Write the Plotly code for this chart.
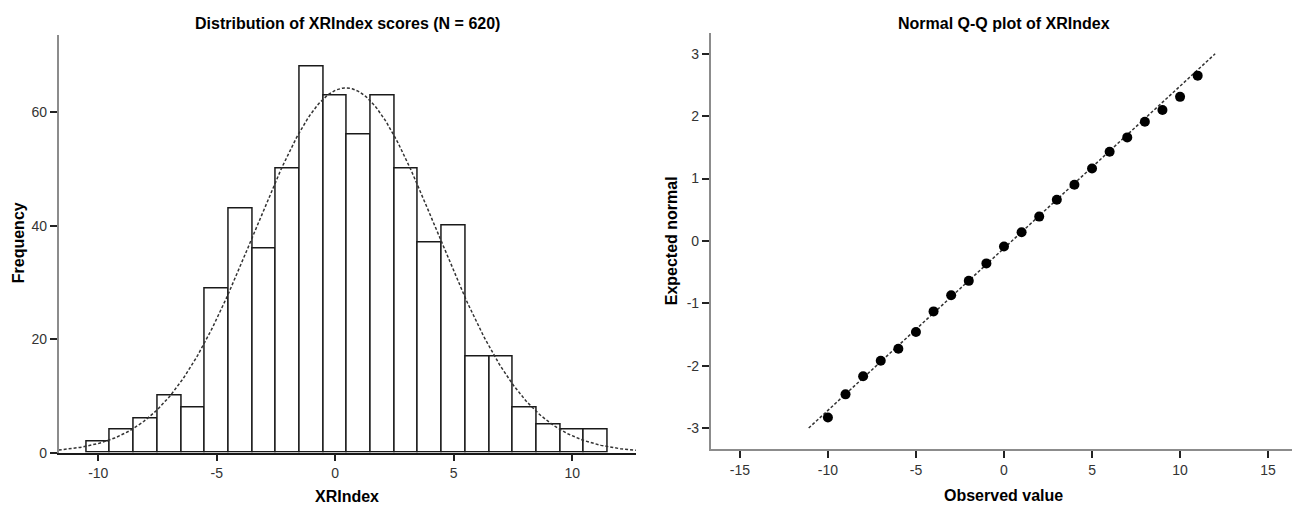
import numpy as np
import plotly.graph_objects as go
from plotly.subplots import make_subplots

# Histogram data: XRIndex score bins (width 1) and their counts
bin_centers = [-10, -9, -8, -7, -6, -5, -4, -3, -2, -1, 0,
               1, 2, 3, 4, 5, 6, 7, 8, 9, 10, 11]
bin_counts = [2, 4, 6, 10, 8, 29, 43, 36, 50, 68, 63,
              56, 63, 50, 37, 40, 17, 17, 8, 5, 4, 4]

# Q-Q plot data: observed value vs expected normal score
qq_observed = [-10, -9, -8, -7, -6, -5, -4, -3, -2, -1, 0,
               1, 2, 3, 4, 5, 6, 7, 8, 9, 10, 11]
qq_expected = [-2.83, -2.46, -2.17, -1.92, -1.73, -1.46, -1.13, -0.87, -0.64, -0.36, -0.09,
               0.14, 0.39, 0.66, 0.90, 1.16, 1.43, 1.66, 1.91, 2.10, 2.31, 2.65]

hist_xticks = [-10, -5, 0, 5, 10]
hist_yticks = [0, 20, 40, 60]
qq_xticks = [-15, -10, -5, 0, 5, 10, 15]
qq_yticks = [-3, -2, -1, 0, 1, 2, 3]

hist_xrange = [-11.67, 12.69]
hist_yrange = [0, 73.7]
qq_xrange = [-16.66, 16.66]
qq_yrange = [-3.34, 3.34]

FONT = "Liberation Sans, Arial, sans-serif"

# fitted normal from the binned data (as SPSS draws it)
x = np.array(bin_centers, dtype=float)
f = np.array(bin_counts, dtype=float)
n = f.sum()
mean = (x * f).sum() / n
sd = np.sqrt((f * (x - mean) ** 2).sum() / (n - 1))
curve_x = np.linspace(hist_xrange[0], hist_xrange[1], 300)
curve_y = n * 1.0 / (sd * np.sqrt(2 * np.pi)) * np.exp(-0.5 * ((curve_x - mean) / sd) ** 2)

# reference line of the Q-Q plot, from -3 to +3 expected
line_y = np.array([-3.0, 3.0])
line_x = mean + line_y * sd

fig = make_subplots(rows=1, cols=2)

fig.add_trace(go.Bar(
    x=bin_centers, y=bin_counts, width=1,
    marker=dict(color="white", line=dict(color="#1a1a1a", width=1.5)),
    showlegend=False, hoverinfo="x+y"
), row=1, col=1)

fig.add_trace(go.Scatter(
    x=curve_x, y=curve_y, mode="lines",
    line=dict(color="#333333", width=1.5, dash="3px,2px"),
    showlegend=False, hoverinfo="skip"
), row=1, col=1)

fig.add_trace(go.Scatter(
    x=line_x, y=line_y, mode="lines",
    line=dict(color="#333333", width=1.5, dash="3px,2px"),
    showlegend=False, hoverinfo="skip"
), row=1, col=2)

fig.add_trace(go.Scatter(
    x=qq_observed, y=qq_expected, mode="markers",
    marker=dict(color="black", size=10),
    showlegend=False
), row=1, col=2)

axis_style = dict(
    showline=True, linecolor="#8c8c8c", linewidth=1.5,
    ticks="outside", ticklen=7, tickwidth=1.5, tickcolor="#222222",
    showgrid=False, zeroline=False,
    tickfont=dict(family=FONT, size=14, color="#333333"),
)

fig.update_xaxes(axis_style)
fig.update_yaxes(axis_style)


def labels(vals):
    # SPSS uses a plain hyphen for negative numbers
    return [str(v) for v in vals]


fig.update_xaxes(range=hist_xrange, tickvals=hist_xticks, ticktext=labels(hist_xticks),
                 domain=[0.039, 0.483], linecolor="#1a1a1a", row=1, col=1)
fig.update_yaxes(range=hist_yrange, tickvals=hist_yticks, ticktext=labels(hist_yticks),
                 domain=[0.1108, 0.9469], row=1, col=1)
fig.update_xaxes(range=qq_xrange, tickvals=qq_xticks, ticktext=labels(qq_xticks),
                 domain=[0.5405, 0.9918], row=1, col=2)
fig.update_yaxes(range=qq_yrange, tickvals=qq_yticks, ticktext=labels(qq_yticks),
                 domain=[0.1175, 0.9508], row=1, col=2)

title_font = dict(family=FONT, size=16, color="black")
label_font = dict(family=FONT, size=16, color="black")

annotations = [
    dict(text="<b>Distribution of XRIndex scores (N = 620)</b>", x=0.261, y=1 - 16 / 508,
         font=title_font),
    dict(text="<b>Normal Q-Q plot of XRIndex</b>", x=0.766, y=1 - 16 / 508,
         font=title_font),
    dict(text="<b>XRIndex</b>", x=0.261, y=1 - 496 / 508, font=label_font),
    dict(text="<b>Observed value</b>", x=0.766, y=1 - 495 / 508, font=label_font),
    dict(text="<b>Frequency</b>", x=10 / 1300, y=1 - 239 / 508, textangle=-90,
         font=label_font),
    dict(text="<b>Expected normal</b>", x=663 / 1300, y=1 - 237 / 508, textangle=-90,
         font=label_font),
]
for a in annotations:
    a.update(xref="paper", yref="paper", showarrow=False,
             xanchor="center", yanchor="middle")

fig.update_layout(
    width=1300, height=508,
    margin=dict(l=0, r=0, t=0, b=0),
    paper_bgcolor="white", plot_bgcolor="white",
    bargap=0,
    annotations=annotations,
    font=dict(family=FONT),
)

fig.write_html("out.html")
